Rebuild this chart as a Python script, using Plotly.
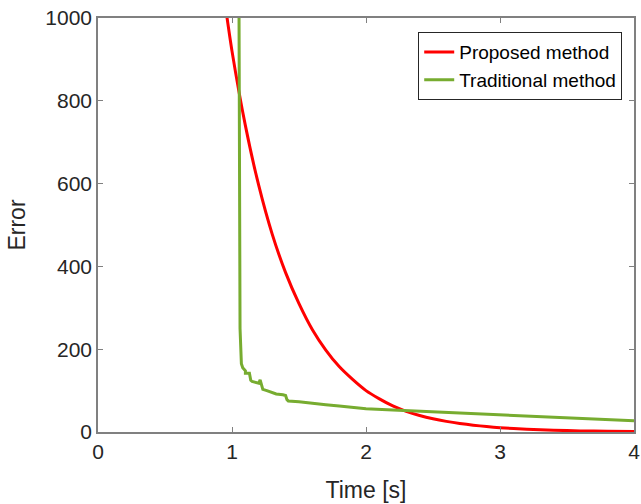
import plotly.graph_objects as go

# Proposed method (red)
prop_x = [0.95, 1.0, 1.1, 1.2, 1.3, 1.4, 1.5, 1.6, 1.7, 1.8, 1.9, 2.0, 2.1, 2.2, 2.3, 2.4,
          2.5, 2.6, 2.7, 2.8, 2.9, 3.0, 3.2, 3.4, 3.6, 3.8, 4.0]
prop_y = [1030, 920, 740, 595, 478, 385, 310, 247, 198, 158, 127, 100, 80, 63, 50, 40,
          32, 25.7, 20.6, 16.5, 13.2, 10.5, 6.5, 4.2, 2.7, 1.8, 1.2]

# Traditional method (green)
trad_x = [1.052, 1.055, 1.06, 1.07, 1.08, 1.10, 1.10, 1.13, 1.14, 1.15, 1.20, 1.21, 1.22,
          1.23, 1.26, 1.30, 1.33, 1.38, 1.40, 1.41, 1.42, 1.50, 1.55, 1.60, 1.70, 1.80,
          1.90, 2.0, 2.2, 2.4, 2.6, 2.8, 3.0, 3.3, 3.6, 4.0]
trad_y = [1050, 600, 250, 165, 155, 148, 142, 142, 125, 122, 118, 126, 112,
          103, 100, 95, 92, 90, 88, 78, 75, 73, 71, 69, 66, 63,
          59, 56, 53, 50, 47, 44, 41, 36, 32, 27]

x_ticks = [0, 1, 2, 3, 4]
y_ticks = [0, 200, 400, 600, 800, 1000]

FONT = "Liberation Sans, Arial"

fig = go.Figure()
fig.add_trace(go.Scatter(x=prop_x, y=prop_y, mode="lines", name="Proposed method",
                         line=dict(color="#ff0000", width=3, shape="spline", smoothing=0.6)))
fig.add_trace(go.Scatter(x=trad_x, y=trad_y, mode="lines", name="Traditional method",
                         line=dict(color="#77ac30", width=3)))

axis_common = dict(showgrid=False, zeroline=False, showline=True, linecolor="#808080",
                   linewidth=1.5, mirror="ticks", ticks="inside", ticklen=5,
                   tickcolor="#808080", tickwidth=1, automargin=False,
                   tickfont=dict(family=FONT, size=21, color="#262626"))

fig.update_xaxes(range=[0, 4], tickvals=x_ticks, ticktext=[str(v) for v in x_ticks],
                 title=dict(text="Time [s]", font=dict(family=FONT, size=23, color="#262626"),
                            standoff=20),
                 **axis_common)
fig.update_yaxes(range=[0, 1000], tickvals=y_ticks, ticktext=[str(v) for v in y_ticks],
                 title=dict(text="Error", font=dict(family=FONT, size=23, color="#262626"),
                            standoff=13),
                 **axis_common)

fig.update_layout(
    width=641, height=504,
    margin=dict(l=98, r=7, t=18, b=72),
    paper_bgcolor="white", plot_bgcolor="white",
    showlegend=True,
    legend=dict(x=0.978, y=0.966, xanchor="right", yanchor="top",
                bgcolor="white", bordercolor="#262626", borderwidth=1,
                font=dict(family=FONT, size=19, color="#000000"),
                tracegroupgap=0, itemwidth=30),
)

fig.write_html("out.html")
